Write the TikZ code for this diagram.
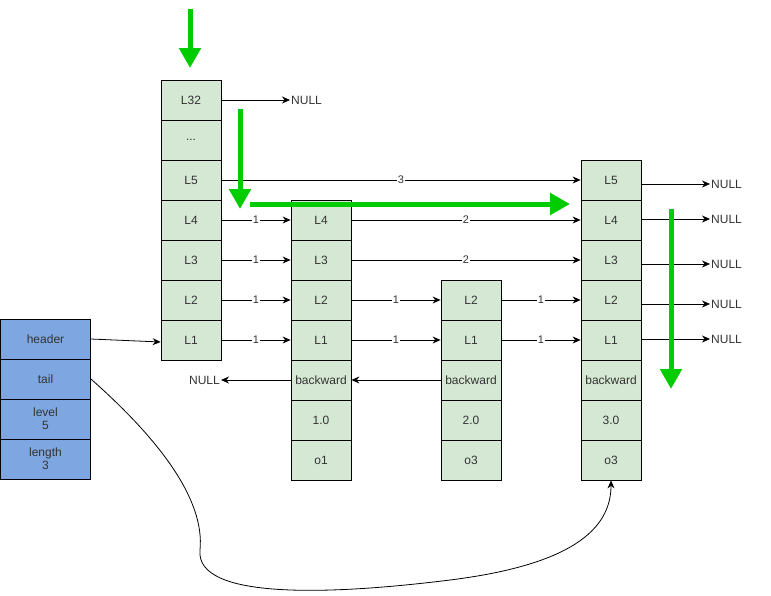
\documentclass[tikz,border=0pt]{standalone}
\usepackage{fontspec}
\setmainfont{Liberation Sans}
\usetikzlibrary{arrows.meta}
\definecolor{cellgreen}{HTML}{D5E8D4}
\definecolor{cellblue}{HTML}{7EA6E0}
\definecolor{pathgreen}{HTML}{00CC00}
\definecolor{txt}{HTML}{333333}
\begin{document}
\begin{tikzpicture}[x=1pt,y=-1pt,
  cell/.style={draw=black, line width=0.8pt, fill=cellgreen, minimum width=60pt, minimum height=40pt, inner sep=0pt, font=\fontsize{12}{14}\selectfont, text=txt, align=center},
  hcell/.style={cell, fill=cellblue, minimum width=90pt},
  ptr/.style={draw=black, line width=0.8pt, -{Stealth[length=8pt,width=7pt]}},
  lbl/.style={fill=white, inner sep=1pt, font=\fontsize{11}{13}\selectfont, text=txt},
  nul/.style={inner sep=1pt, font=\fontsize{12}{14}\selectfont, text=txt},
  route/.style={draw=pathgreen, line width=5pt, -{Triangle[length=20pt,width=21pt]}}
]
\useasboundingbox (0,0) rectangle (771,595);

% header struct
\node[hcell] (h)  at (45.5,339) {header};
\node[hcell] (t)  at (45.5,379) {tail};
\node[hcell] (lv) at (45.5,419) {level\\[-1pt]5};
\node[hcell] (ln) at (45.5,459) {length\\[-1pt]3};

% column 1 (header node)
\node[cell] (a32) at (191,100) {L32};
\node[cell] (ad)  at (191,140) {...};
\node[cell] (a5)  at (191,180) {L5};
\node[cell] (a4)  at (191,220) {L4};
\node[cell] (a3)  at (191,260) {L3};
\node[cell] (a2)  at (191,300) {L2};
\node[cell] (a1)  at (191,340) {L1};

% column 2
\node[cell] (b4)  at (321,220) {L4};
\node[cell] (b3)  at (321,260) {L3};
\node[cell] (b2)  at (321,300) {L2};
\node[cell] (b1)  at (321,340) {L1};
\node[cell] (bbw) at (321,380) {backward};
\node[cell] (bsc) at (321,420) {1.0};
\node[cell] (bob) at (321,460) {o1};

% column 3
\node[cell] (c2)  at (471,300) {L2};
\node[cell] (c1)  at (471,340) {L1};
\node[cell] (cbw) at (471,380) {backward};
\node[cell] (csc) at (471,420) {2.0};
\node[cell] (cob) at (471,460) {o3};

% column 4
\node[cell] (d5)  at (611,180) {L5};
\node[cell] (d4)  at (611,220) {L4};
\node[cell] (d3)  at (611,260) {L3};
\node[cell] (d2)  at (611,300) {L2};
\node[cell] (d1)  at (611,340) {L1};
\node[cell] (dbw) at (611,380) {backward};
\node[cell] (dsc) at (611,420) {3.0};
\node[cell] (dob) at (611,460) {o3};

% NULL labels
\node[nul, anchor=west] (n32) at (290,100) {NULL};
\node[nul, anchor=east] (nbw) at (221,380) {NULL};
\node[nul, anchor=west] (n5) at (710,184) {NULL};
\node[nul, anchor=west] (n4) at (710,219) {NULL};
\node[nul, anchor=west] (n3) at (710,264) {NULL};
\node[nul, anchor=west] (n2) at (710,304) {NULL};
\node[nul, anchor=west] (n1) at (710,339) {NULL};

% forward pointers
\draw[ptr] (a32.east) -- (n32.west);
\draw[ptr] (a5.east) -- node[lbl]{3} (d5.west);
\draw[ptr] (a4.east) -- node[lbl]{1} (b4.west);
\draw[ptr] (a3.east) -- node[lbl]{1} (b3.west);
\draw[ptr] (a2.east) -- node[lbl]{1} (b2.west);
\draw[ptr] (a1.east) -- node[lbl]{1} (b1.west);
\draw[ptr] (b4.east) -- node[lbl]{2} (d4.west);
\draw[ptr] (b3.east) -- node[lbl]{2} (d3.west);
\draw[ptr] (b2.east) -- node[lbl]{1} (c2.west);
\draw[ptr] (b1.east) -- node[lbl]{1} (c1.west);
\draw[ptr] (c2.east) -- node[lbl]{1} (d2.west);
\draw[ptr] (c1.east) -- node[lbl]{1} (d1.west);
\draw[ptr] (d5.east |- n5.west) -- (n5.west);
\draw[ptr] (d4.east |- n4.west) -- (n4.west);
\draw[ptr] (d3.east |- n3.west) -- (n3.west);
\draw[ptr] (d2.east |- n2.west) -- (n2.west);
\draw[ptr] (d1.east |- n1.west) -- (n1.west);

% backward pointers
\draw[ptr] (cbw.west) -- (bbw.east);
\draw[ptr] (bbw.west) -- (nbw.east);

% header / tail
\draw[ptr] (h.east) -- ([yshift=-2pt]a1.west);
\draw[ptr] (t.east) .. controls (160,440) and (205,500) .. (200,550)
  .. controls (195,600) and (330,595) .. (450,580)
  .. controls (570,565) and (611,530) .. (dob.south);

% search route (green)
\coordinate (g1s) at (190,9);   \coordinate (g1e) at (190,68);
\coordinate (g2s) at (240,109); \coordinate (g2e) at (240,209);
\coordinate (g3s) at (250,204); \coordinate (g3e) at (570,204);
\coordinate (g4s) at (671,209); \coordinate (g4e) at (671,389);
\draw[route] (g1s) -- (g1e);
\draw[route] (g2s) -- (g2e);
\draw[route] (g3s) -- (g3e);
\draw[route] (g4s) -- (g4e);
\end{tikzpicture}
\end{document}
